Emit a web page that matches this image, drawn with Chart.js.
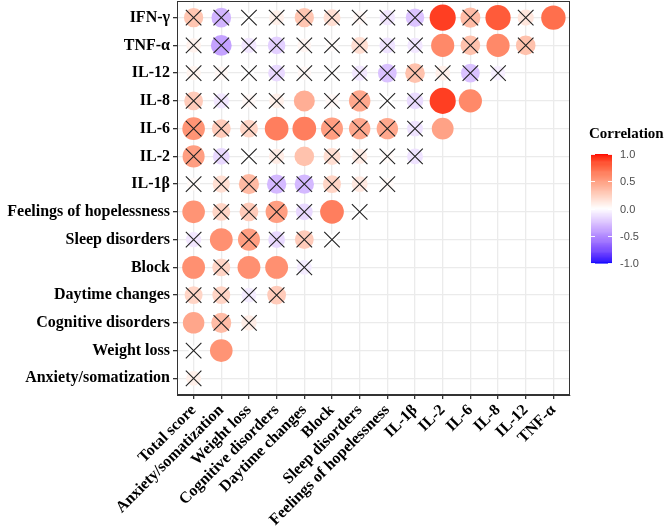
<!DOCTYPE html>
<html>
<head>
<meta charset="utf-8">
<script src="https://cdn.jsdelivr.net/npm/chart.js@4.4.0/dist/chart.umd.min.js"></script>
<style>
  html, body { margin: 0; padding: 0; background: #fff; }
</style>
</head>
<body>
<canvas id="corrChart" width="669" height="526"></canvas>
<script>
// rows top -> bottom, columns left -> right
const rowLabels = ["IFN-γ", "TNF-α", "IL-12", "IL-8", "IL-6", "IL-2", "IL-1β",
  "Feelings of hopelessness", "Sleep disorders", "Block", "Daytime changes",
  "Cognitive disorders", "Weight loss", "Anxiety/somatization"];
const colLabels = ["Total score", "Anxiety/somatization", "Weight loss", "Cognitive disorders",
  "Daytime changes", "Block", "Sleep disorders", "Feelings of hopelessness",
  "IL-1β", "IL-2", "IL-6", "IL-8", "IL-12", "TNF-α"];
const legendTicks = [1.0, 0.5, 0.0, -0.5, -1.0];

// correlation coefficients, one list per row
const corrValues = [
  [0.30, -0.32, 0.00, 0.08, 0.30, 0.17, 0.04, -0.10, -0.25, 0.90, 0.35, 0.80, 0.13, 0.72],
  [0.07, -0.40, -0.10, -0.20, 0.05, 0.02, 0.17, -0.12, -0.10, 0.60, 0.32, 0.60, 0.32],
  [0.06, 0.04, 0.00, -0.16, 0.04, 0.00, -0.10, -0.26, 0.32, 0.08, -0.26, -0.07],
  [0.27, -0.10, 0.04, 0.08, 0.42, 0.04, 0.45, 0.00, -0.15, 0.90, 0.60],
  [0.55, 0.27, 0.22, 0.65, 0.65, 0.50, 0.45, 0.45, -0.12, 0.48],
  [0.50, -0.16, 0.00, 0.10, 0.32, 0.17, 0.10, 0.03, -0.12],
  [0.03, 0.17, 0.36, -0.30, -0.30, 0.22, 0.12, 0.03],
  [0.55, 0.22, 0.27, 0.50, -0.16, 0.65, 0.00],
  [-0.10, 0.57, 0.50, -0.16, 0.27, 0.00],
  [0.57, 0.22, 0.57, 0.57, -0.08],
  [0.22, 0.22, -0.08, 0.27],
  [0.46, 0.35, 0.10],
  [0.00, 0.55],
  [0.08]
];

// 1 = not significant (crossed out)
const notSignificant = [
  [1, 1, 1, 1, 1, 1, 1, 1, 1, 0, 1, 0, 1, 0],
  [1, 1, 1, 1, 1, 1, 1, 1, 1, 0, 1, 0, 1],
  [1, 1, 1, 1, 1, 1, 1, 1, 1, 1, 1, 1],
  [1, 1, 1, 1, 0, 1, 1, 1, 1, 0, 0],
  [1, 1, 1, 0, 0, 1, 1, 1, 1, 0],
  [1, 1, 1, 1, 0, 1, 1, 1, 1],
  [1, 1, 1, 1, 1, 1, 1, 1],
  [0, 1, 1, 1, 1, 0, 1],
  [1, 0, 1, 1, 1, 1],
  [0, 1, 0, 0, 1],
  [1, 1, 1, 1],
  [0, 1, 1],
  [1, 0],
  [1]
];

// blue - white - red, interpolated in Lab like ggplot's gradient2
function toLinear(c) { c /= 255; return c <= 0.04045 ? c / 12.92 : Math.pow((c + 0.055) / 1.055, 2.4); }
function toSrgb(c) {
  c = Math.min(1, Math.max(0, c));
  return Math.round(255 * (c <= 0.0031308 ? 12.92 * c : 1.055 * Math.pow(c, 1 / 2.4) - 0.055));
}
function rgbToLab(rgb) {
  const R = toLinear(rgb[0]), G = toLinear(rgb[1]), B = toLinear(rgb[2]);
  const X = (0.4124 * R + 0.3576 * G + 0.1805 * B) / 0.95047;
  const Y = 0.2126 * R + 0.7152 * G + 0.0722 * B;
  const Z = (0.0193 * R + 0.1192 * G + 0.9505 * B) / 1.08883;
  const f = t => t > 0.008856 ? Math.cbrt(t) : 7.787 * t + 16 / 116;
  const fx = f(X), fy = f(Y), fz = f(Z);
  return [116 * fy - 16, 500 * (fx - fy), 200 * (fy - fz)];
}
function labToRgb(lab) {
  const fy = (lab[0] + 16) / 116, fx = fy + lab[1] / 500, fz = fy - lab[2] / 200;
  const inv = t => t * t * t > 0.008856 ? t * t * t : (t - 16 / 116) / 7.787;
  const X = inv(fx) * 0.95047, Y = inv(fy), Z = inv(fz) * 1.08883;
  return [
    toSrgb(3.2406 * X - 1.5372 * Y - 0.4986 * Z),
    toSrgb(-0.9689 * X + 1.8758 * Y + 0.0415 * Z),
    toSrgb(0.0557 * X - 0.2040 * Y + 1.0570 * Z)
  ];
}
const labLow = rgbToLab([0, 0, 255]);
const labMid = rgbToLab([255, 255, 255]);
const labHigh = rgbToLab([255, 0, 0]);
function corrColor(v) {
  const end = v >= 0 ? labHigh : labLow;
  const t = Math.min(1, Math.abs(v));
  const lab = labMid.map((m, i) => m + (end[i] - m) * t);
  const c = labToRgb(lab);
  return "rgb(" + c[0] + "," + c[1] + "," + c[2] + ")";
}

const circlePoints = [];
const crossPoints = [];
corrValues.forEach((row, r) => {
  row.forEach((v, c) => {
    circlePoints.push({ x: c, y: r, v: v });
    if (notSignificant[r][c]) crossPoints.push({ x: c, y: r });
  });
});

const serifBold = { family: "'Liberation Serif', 'Times New Roman', serif", size: 16, weight: "bold" };

// panel border + colour bar legend
const panelAndLegend = {
  id: "panelAndLegend",
  afterDraw(chart) {
    const ctx = chart.ctx;
    const a = chart.chartArea;
    ctx.save();
    ctx.strokeStyle = "#333333";
    ctx.lineWidth = 1;
    ctx.strokeRect(Math.round(a.left) + 0.5, Math.round(a.top) + 0.5,
      Math.round(a.right - a.left) - 1, Math.round(a.bottom - a.top) - 1);

    // legend
    const barX = 591, barW = 21, barTop = 154, barBottom = 263;
    const yOf = v => barTop + (1 - v) / 2 * (barBottom - barTop);
    ctx.fillStyle = "#000";
    ctx.font = "bold 15px 'Liberation Serif', serif";
    ctx.textAlign = "left";
    ctx.textBaseline = "alphabetic";
    ctx.fillText("Correlation", 589, 138);
    const steps = 120;
    for (let i = 0; i < steps; i++) {
      const v0 = 1 - 2 * i / steps, v1 = 1 - 2 * (i + 1) / steps;
      ctx.fillStyle = corrColor((v0 + v1) / 2);
      ctx.fillRect(barX, yOf(v0), barW, yOf(v1) - yOf(v0) + 0.6);
    }
    ctx.strokeStyle = "rgba(255,255,255,0.9)";
    ctx.lineWidth = 1;
    ctx.font = "11px 'Liberation Sans', Arial, sans-serif";
    ctx.textBaseline = "middle";
    legendTicks.forEach(t => {
      const y = Math.round(yOf(t)) + 0.5;
      ctx.beginPath();
      ctx.moveTo(barX, y); ctx.lineTo(barX + 4, y);
      ctx.moveTo(barX + barW - 4, y); ctx.lineTo(barX + barW, y);
      ctx.stroke();
      ctx.fillStyle = "#4D4D4D";
      ctx.fillText(t.toFixed(1), 620, yOf(t) + 1);
    });
    ctx.restore();
  }
};

new Chart(document.getElementById("corrChart"), {
  type: "scatter",
  data: {
    datasets: [
      {
        label: "insignificant",
        data: crossPoints,
        order: 0,
        pointStyle: "crossRot",
        pointRadius: 11,
        borderColor: "#222222",
        backgroundColor: "rgba(0,0,0,0)",
        borderWidth: 1.1
      },
      {
        label: "correlation",
        data: circlePoints,
        order: 1,
        pointStyle: "circle",
        pointRadius: ctx => 5 + 8.5 * Math.sqrt(Math.abs(ctx.raw.v)),
        backgroundColor: ctx => corrColor(ctx.raw.v),
        borderWidth: 0
      }
    ]
  },
  options: {
    responsive: false,
    animation: false,
    events: [],
    layout: { autoPadding: false, padding: { left: 0, top: 1, right: 99, bottom: 0 } },
    plugins: {
      legend: { display: false },
      tooltip: { enabled: false }
    },
    scales: {
      x: {
        type: "linear",
        min: -0.6,
        max: 13.6,
        afterBuildTicks: scale => { scale.ticks = colLabels.map((_, i) => ({ value: i })); },
        afterFit: scale => {
          scale.height = 131;
          scale.paddingLeft = 0;
          scale.paddingRight = 0;
        },
        grid: { color: "#EBEBEB", lineWidth: 1.3, tickColor: "#333333", tickLength: 4 },
        border: { display: true, color: "#333333", width: 1 },
        ticks: {
          autoSkip: false,
          minRotation: 45,
          maxRotation: 45,
          padding: 2,
          color: "#000",
          font: serifBold,
          callback: v => colLabels[v]
        }
      },
      y: {
        type: "linear",
        reverse: true,
        min: -0.6,
        max: 13.6,
        afterBuildTicks: scale => { scale.ticks = rowLabels.map((_, i) => ({ value: i })); },
        afterFit: scale => {
          scale.width = 177;
          scale.paddingTop = 0;
          scale.paddingBottom = 0;
        },
        grid: { color: "#EBEBEB", lineWidth: 1.3, tickColor: "#333333", tickLength: 4 },
        border: { display: true, color: "#333333", width: 1 },
        ticks: {
          autoSkip: false,
          padding: 3,
          color: "#000",
          font: serifBold,
          callback: v => rowLabels[v]
        }
      }
    }
  },
  plugins: [panelAndLegend]
});
</script>
</body>
</html>
